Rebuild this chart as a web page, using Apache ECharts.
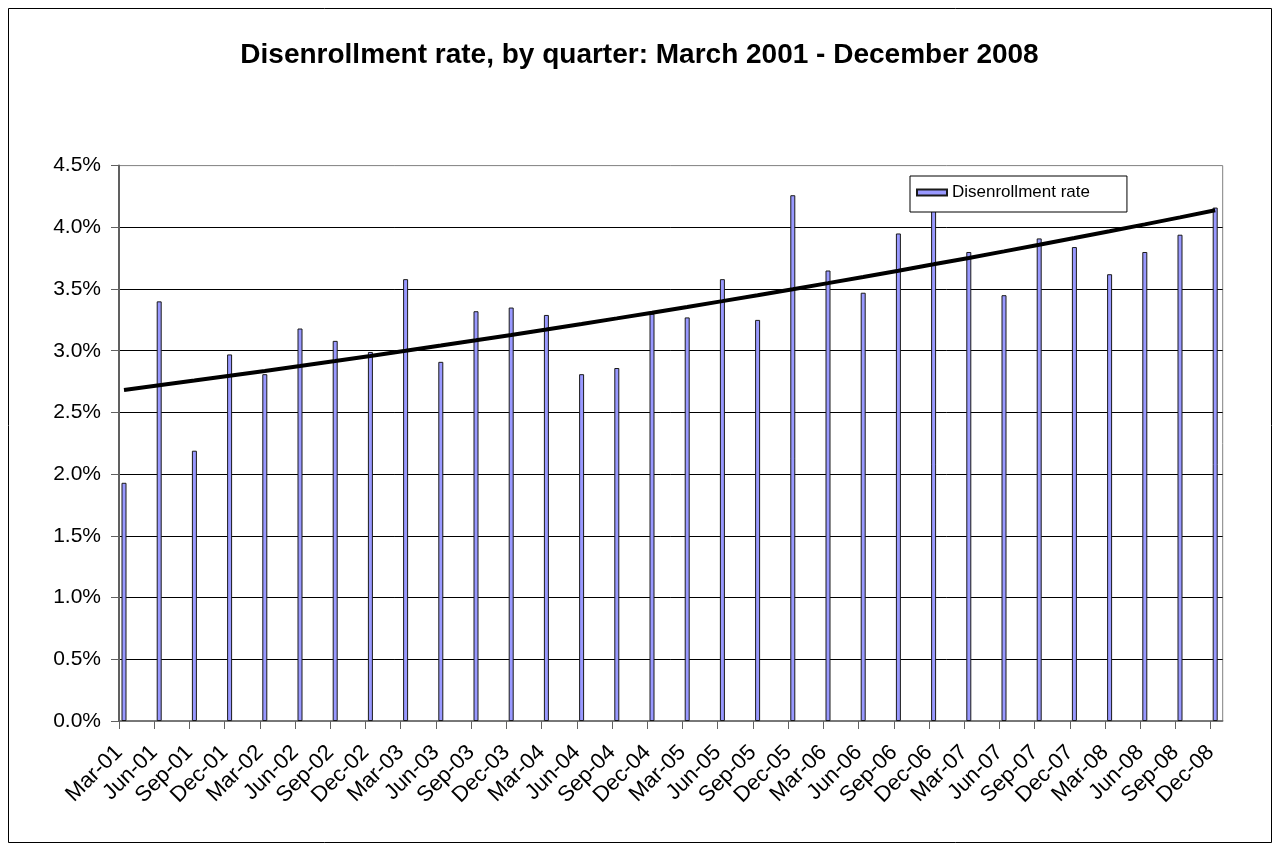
<!DOCTYPE html>
<html>
<head>
<meta charset="utf-8">
<title>Disenrollment rate, by quarter</title>
<script src="https://cdn.jsdelivr.net/npm/echarts@6/dist/echarts.min.js"></script>
<style>
  html, body { margin: 0; padding: 0; background: #fff; }
  #chart { width: 1279px; height: 850px; }
</style>
</head>
<body>
<div id="chart"></div>
<script>
// Quarter-end labels, March 2001 through December 2008
const quarters = [
  'Mar-01', 'Jun-01', 'Sep-01', 'Dec-01',
  'Mar-02', 'Jun-02', 'Sep-02', 'Dec-02',
  'Mar-03', 'Jun-03', 'Sep-03', 'Dec-03',
  'Mar-04', 'Jun-04', 'Sep-04', 'Dec-04',
  'Mar-05', 'Jun-05', 'Sep-05', 'Dec-05',
  'Mar-06', 'Jun-06', 'Sep-06', 'Dec-06',
  'Mar-07', 'Jun-07', 'Sep-07', 'Dec-07',
  'Mar-08', 'Jun-08', 'Sep-08', 'Dec-08'
];

// Disenrollment rate per quarter, in percent
const disenrollmentRate = [
  1.93, 3.40, 2.19, 2.97,
  2.81, 3.18, 3.08, 2.99,
  3.58, 2.91, 3.32, 3.35,
  3.29, 2.81, 2.86, 3.30,
  3.27, 3.58, 3.25, 4.26,
  3.65, 3.47, 3.95, 4.15,
  3.80, 3.45, 3.91, 3.84,
  3.62, 3.80, 3.94, 4.16
];

// Value axis range and step (percent)
const yMin = 0;
const yMax = 4.5;
const yStep = 0.5;

const seriesName = 'Disenrollment rate';
const FONT = "'Liberation Sans', Arial, sans-serif";

// Exponential trend y = a * e^(b * i): least-squares fit of ln(y) on the quarter index
function exponentialTrend(values) {
  const n = values.length;
  const xs = values.map((_, i) => i);
  const ls = values.map((v) => Math.log(v));
  const mx = xs.reduce((s, x) => s + x, 0) / n;
  const ml = ls.reduce((s, l) => s + l, 0) / n;
  let sxy = 0, sxx = 0;
  for (let i = 0; i < n; i++) {
    sxy += (xs[i] - mx) * (ls[i] - ml);
    sxx += (xs[i] - mx) * (xs[i] - mx);
  }
  const b = sxy / sxx;
  const lnA = ml - b * mx;
  return xs.map((x) => Math.exp(lnA + b * x));
}
const trendData = exponentialTrend(disenrollmentRate);

const plotTop = 165.6;
const plotHeight = 555.4;

const chart = echarts.init(document.getElementById('chart'), null, { renderer: 'canvas' });

const hiddenValueY = (gridIndex) => ({
  gridIndex, type: 'value', min: yMin, max: yMax, interval: yStep, show: false
});

chart.setOption({
  animation: false,
  backgroundColor: '#fff',
  title: {
    text: 'Disenrollment rate, by quarter: March 2001 - December 2008',
    left: 'center',
    top: 36,
    textStyle: { fontFamily: FONT, fontSize: 28, fontWeight: 'bold', color: '#000' }
  },
  legend: {
    data: [seriesName],
    left: 910,
    top: 176,
    orient: 'horizontal',
    backgroundColor: '#fff',
    borderColor: '#000',
    borderWidth: 1,
    borderRadius: 0,
    padding: [8, 37, 11, 6],
    itemWidth: 30,
    itemHeight: 6,
    itemGap: 4,
    icon: 'rect',
    textStyle: { fontFamily: FONT, fontSize: 17, color: '#000' }
  },
  grid: [
    // plot frame: border, gridlines, value axis
    { left: 119, top: plotTop, width: 1103.7, height: plotHeight, show: true,
      borderColor: '#808080', borderWidth: 1, backgroundColor: '#fff' },
    // category tick marks and labels
    { left: 119, top: plotTop, width: 1091.7, height: plotHeight },
    // columns and trend line
    { left: 124, top: plotTop, width: 1091.2, height: plotHeight }
  ],
  xAxis: [
    { gridIndex: 0, type: 'value', min: 0, max: 1,
      axisLine: { show: true, onZero: false, lineStyle: { color: '#606060', width: 1.5 } },
      axisTick: { show: false }, axisLabel: { show: false }, splitLine: { show: false } },
    { gridIndex: 1, type: 'category', boundaryGap: false, data: quarters,
      axisLine: { show: false },
      axisTick: { show: true, interval: 0, length: 8, lineStyle: { color: '#606060', width: 1 } },
      axisLabel: { interval: 0, rotate: 45, margin: 28, fontFamily: FONT, fontSize: 22, color: '#000' },
      splitLine: { show: false } },
    { gridIndex: 2, type: 'category', boundaryGap: false, data: quarters, show: false }
  ],
  yAxis: [
    { gridIndex: 0, type: 'value', min: yMin, max: yMax, interval: yStep,
      axisLine: { show: true, lineStyle: { color: '#606060', width: 2 } },
      axisTick: { show: true, length: 8, lineStyle: { color: '#606060', width: 1 } },
      axisLabel: { margin: 18, fontFamily: FONT, fontSize: 21, color: '#000',
        formatter: (v) => v.toFixed(1) + '%' },
      splitLine: { show: true, showMinLine: false, showMaxLine: false,
        lineStyle: { color: '#000', width: 1 } } },
    hiddenValueY(1),
    hiddenValueY(2)
  ],
  series: [
    {
      name: seriesName,
      type: 'bar',
      xAxisIndex: 2,
      yAxisIndex: 2,
      data: disenrollmentRate,
      barWidth: 5,
      itemStyle: { color: '#9999FF', borderColor: '#1a1a1a', borderWidth: 1 },
      z: 2
    },
    {
      name: 'Exponential trend',
      type: 'line',
      xAxisIndex: 2,
      yAxisIndex: 2,
      data: trendData,
      symbol: 'none',
      lineStyle: { color: '#000', width: 4 },
      z: 3
    }
  ],
  graphic: [
    { type: 'rect', shape: { x: 8.5, y: 8.5, width: 1263, height: 834 },
      style: { fill: 'none', stroke: '#000', lineWidth: 1 }, z: 100, silent: true }
  ]
});
</script>
</body>
</html>
